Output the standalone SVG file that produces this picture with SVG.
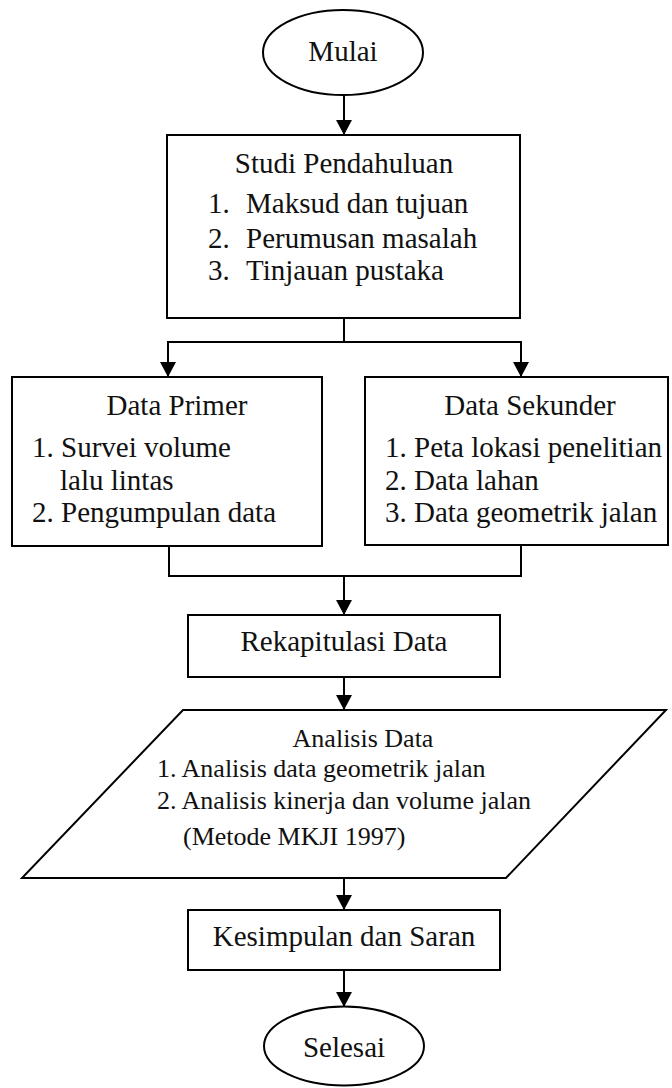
<svg xmlns="http://www.w3.org/2000/svg" width="672" height="1088" viewBox="0 0 672 1088">
  <style>
    .shape { fill: #fff; stroke: #000; stroke-width: 2; }
    .wire { fill: none; stroke: #000; stroke-width: 2; }
    .lbl { font-family: "Liberation Serif", "Times New Roman", serif; font-size: 29px; fill: #111; }
    .mid { text-anchor: middle; }
    .small { font-size: 26px; }
  </style>
  <defs>
    <marker id="arrow" markerUnits="userSpaceOnUse" markerWidth="16" markerHeight="16" refX="15" refY="8" orient="auto">
      <path d="M0,0 L15,8 L0,16 z" fill="#000"/>
    </marker>
  </defs>
  <rect width="672" height="1088" fill="#fff"/>

  <!-- connectors -->
  <g id="connectors">
    <line class="wire" x1="344" y1="95" x2="344" y2="135" marker-end="url(#arrow)"/>
    <line class="wire" x1="344" y1="318" x2="344" y2="342"/>
    <line class="wire" x1="167" y1="342" x2="522" y2="342"/>
    <line class="wire" x1="168" y1="342" x2="168" y2="377" marker-end="url(#arrow)"/>
    <line class="wire" x1="521" y1="342" x2="521" y2="377" marker-end="url(#arrow)"/>
    <line class="wire" x1="169" y1="546" x2="169" y2="576"/>
    <line class="wire" x1="521" y1="545" x2="521" y2="576"/>
    <line class="wire" x1="168" y1="576" x2="522" y2="576"/>
    <line class="wire" x1="344" y1="576" x2="344" y2="615" marker-end="url(#arrow)"/>
    <line class="wire" x1="344" y1="677" x2="344" y2="710" marker-end="url(#arrow)"/>
    <line class="wire" x1="344" y1="878" x2="344" y2="910" marker-end="url(#arrow)"/>
    <line class="wire" x1="344" y1="970" x2="344" y2="1007" marker-end="url(#arrow)"/>
  </g>

  <g id="mulai">
    <ellipse class="shape" cx="343" cy="52.5" rx="80" ry="42.5"/>
    <text class="lbl mid" x="343" y="61">Mulai</text>
  </g>

  <g id="studi-pendahuluan">
    <rect class="shape" x="167" y="135" width="353" height="183"/>
    <text class="lbl mid" x="344" y="173">Studi Pendahuluan</text>
    <text class="lbl" x="208" y="213">1.</text>
    <text class="lbl" x="246" y="213">Maksud dan tujuan</text>
    <text class="lbl" x="208" y="248">2.</text>
    <text class="lbl" x="246" y="248">Perumusan masalah</text>
    <text class="lbl" x="208" y="280">3.</text>
    <text class="lbl" x="246" y="280">Tinjauan pustaka</text>
  </g>

  <g id="data-primer">
    <rect class="shape" x="12" y="377" width="310" height="169"/>
    <text class="lbl mid" x="177" y="415">Data Primer</text>
    <text class="lbl" x="32" y="457">1. Survei volume</text>
    <text class="lbl" x="60" y="490">lalu lintas</text>
    <text class="lbl" x="32" y="522">2. Pengumpulan data</text>
  </g>

  <g id="data-sekunder">
    <rect class="shape" x="365" y="377" width="303" height="168"/>
    <text class="lbl mid" x="530" y="415">Data Sekunder</text>
    <text class="lbl" x="385" y="457">1. Peta lokasi penelitian</text>
    <text class="lbl" x="385" y="490">2. Data lahan</text>
    <text class="lbl" x="385" y="522">3. Data geometrik jalan</text>
  </g>

  <g id="rekapitulasi">
    <rect class="shape" x="188" y="615" width="312" height="62"/>
    <text class="lbl mid" x="344" y="651">Rekapitulasi Data</text>
  </g>

  <g id="analisis-data">
    <polygon class="shape" points="183,710 666,710 506,878 22,878"/>
    <text class="lbl small mid" x="363" y="747">Analisis Data</text>
    <text class="lbl small" x="157" y="777">1. Analisis data geometrik jalan</text>
    <text class="lbl small" x="157" y="809">2. Analisis kinerja dan volume jalan</text>
    <text class="lbl small" x="183" y="845">(Metode MKJI 1997)</text>
  </g>

  <g id="kesimpulan">
    <rect class="shape" x="188" y="910" width="312" height="60"/>
    <text class="lbl mid" x="344" y="946">Kesimpulan dan Saran</text>
  </g>

  <g id="selesai">
    <ellipse class="shape" cx="344" cy="1046" rx="80" ry="39.5"/>
    <text class="lbl mid" x="344" y="1057">Selesai</text>
  </g>
</svg>
